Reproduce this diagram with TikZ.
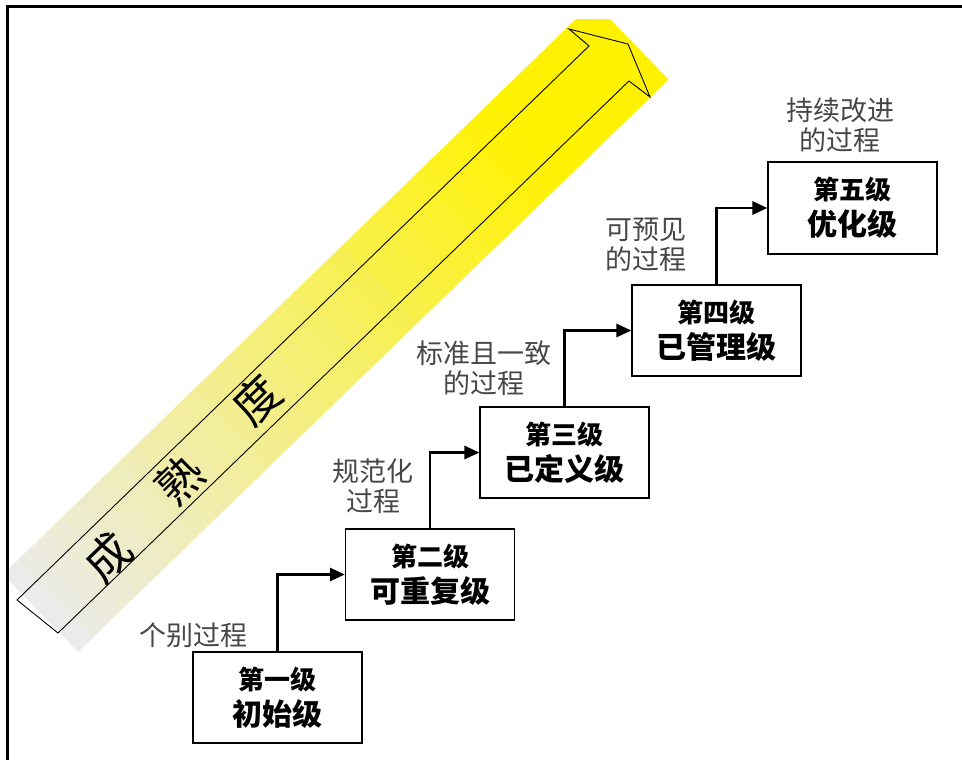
\documentclass[tikz,border=0pt]{standalone}
\usepackage{fontspec}
\newfontfamily\cjk{Noto Sans CJK SC}
\usetikzlibrary{arrows.meta}
\definecolor{bandgray}{RGB}{232,232,232}
\begin{document}
\begin{tikzpicture}[x=1pt,y=-1pt,
  levelbox/.style={draw, line width=1.2pt, minimum width=169pt, minimum height=91pt, inner sep=0pt, align=center, font=\cjk\bfseries},
  proclabel/.style={align=center, text=black!72, inner sep=0pt, font=\cjk\fontsize{27}{30}\selectfont},
  bandchar/.style={rotate=44.1, inner sep=0pt, font=\cjk\fontsize{46}{46}\selectfont},
  conn/.style={line width=2.8pt, -{Triangle[length=15pt,width=13pt]}}]
\useasboundingbox (0,0) rectangle (962,760);
% band
\begin{scope}
  \clip (8,20) rectangle (962,760);
  \begin{scope}[shift={(78,652)}, rotate=44.1]
    \foreach \i in {0,...,39} {
      \pgfmathtruncatemacro\p{min(100,(\i+0.5)*20.55/6.8)}
      \fill[yellow!\p!bandgray] ({\i*20.55},0) rectangle ({(\i+1)*20.55+0.6},-108);
    }
  \end{scope}
\end{scope}
\draw[line width=0.9pt, line join=miter] (17,600) -- (589,46) -- (569,29) -- (628,44) -- (650,97) -- (629,81) -- (58,633) -- cycle;
\node[bandchar] (c1) at (108,557) {成};
\node[bandchar] (c2) at (180,480) {熟};
\node[bandchar] (c3) at (257,400) {度};
% frame
\draw[line width=2.5pt] (7.5,760) -- (7.5,6.5) -- (962,6.5);
% boxes
\node[levelbox] (b1) at (277.5,697.5) {{\fontsize{26}{26}\selectfont 第一级}\\[6pt]{\fontsize{30}{30}\selectfont 初始级}};
\node[levelbox] (b2) at (430,574.5) {{\fontsize{26}{26}\selectfont 第二级}\\[6pt]{\fontsize{30}{30}\selectfont 可重复级}};
\node[levelbox] (b3) at (564.5,452.5) {{\fontsize{26}{26}\selectfont 第三级}\\[6pt]{\fontsize{30}{30}\selectfont 已定义级}};
\node[levelbox] (b4) at (716.5,330.5) {{\fontsize{26}{26}\selectfont 第四级}\\[6pt]{\fontsize{30}{30}\selectfont 已管理级}};
\node[levelbox, minimum height=92pt] (b5) at (852.5,208) {{\fontsize{26}{26}\selectfont 第五级}\\[6pt]{\fontsize{30}{30}\selectfont 优化级}};
% connectors
\draw[conn] (b1.north) |- (b2.west);
\draw[conn] (b2.north) |- (b3.west);
\draw[conn] (b3.north) |- (b4.west);
\draw[conn] (b4.north) |- (b5.west);
% labels
\node[proclabel] (l1) at (193,635) {个别过程};
\node[proclabel] (l2) at (373,486) {规范化\\过程};
\node[proclabel] (l3) at (484,368) {标准且一致\\的过程};
\node[proclabel] (l4) at (646,245) {可预见\\的过程};
\node[proclabel] (l5) at (840,125) {持续改进\\的过程};
\end{tikzpicture}
\end{document}
